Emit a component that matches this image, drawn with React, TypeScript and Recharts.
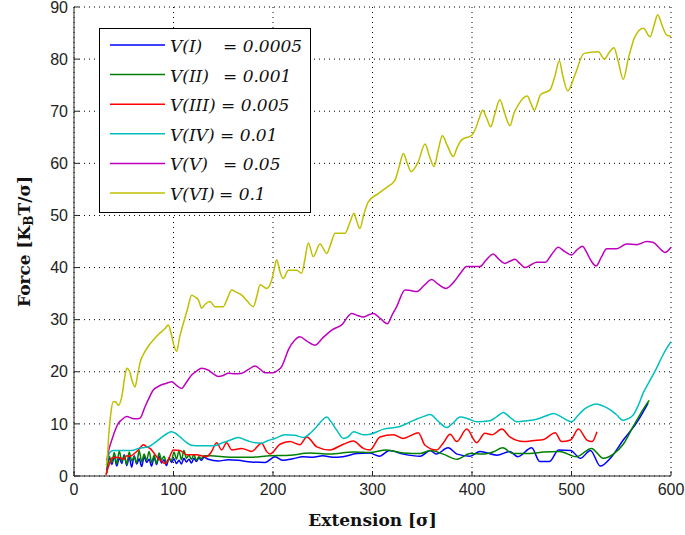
import { LineChart, Line, XAxis, YAxis, CartesianGrid, Legend, Label } from 'recharts';

type Pair = [number, number];

// pulling velocities (legend order)
const seriesNames = ['V(I)', 'V(II)', 'V(III)', 'V(IV)', 'V(V)', 'V(VI)'];
const seriesRates = ['0.0005', '0.001', '0.005', '0.01', '0.05', '0.1'];
const seriesColors = ['#0000ff', '#008000', '#ff0000', '#00bfbf', '#bf00bf', '#bfbf00'];

const xTicks = [0, 100, 200, 300, 400, 500, 600];
const yTicks = [0, 10, 20, 30, 40, 50, 60, 70, 80, 90];

// extension [sigma], force [kBT/sigma]
const v1: Pair[] = [
  [33, 1.2], [35.5, 3.4], [38, 2.2], [40.5, 3.8], [43, 1.9], [45.5, 3.5], [48, 2.4], [50.5, 4.1],
  [53, 2.0], [55.5, 3.6], [58, 1.7], [60.5, 3.9], [63, 2.3], [65.5, 3.3], [68, 1.8], [70.5, 3.7],
  [73, 2.6], [75.5, 3.2], [78, 1.9], [80.5, 3.6], [83, 2.2], [85.5, 3.8], [88, 2.5], [90.5, 3.1],
  [93, 2.0], [95.5, 3.5], [98, 2.6], [100.5, 3.3], [103, 2.4], [105.5, 3.0], [108, 2.3], [110.5, 3.4],
  [113, 2.7], [115.5, 3.2], [118, 2.5], [120.5, 3.4], [123, 2.8], [125.5, 3.5], [128, 3.0], [130.5, 3.6],
  [135, 3.2], [145, 2.9], [155, 3.1], [165, 3.0], [178, 2.7], [192, 2.6], [202, 3.7], [210, 3.0],
  [220, 3.3], [230, 3.7], [240, 3.6], [250, 3.9], [260, 3.6], [270, 3.7], [284, 4.3], [297, 4.4],
  [307, 3.8], [317, 4.9], [331, 4.2], [348, 3.8], [358, 4.9], [364, 4.2], [376, 5.4], [385, 4.2],
  [398, 3.8], [408, 4.7], [425, 4.0], [438, 4.7], [446, 3.7], [460, 5.4], [468, 2.8], [478, 2.8],
  [487, 5.0], [499, 4.9], [509, 3.4], [519, 4.9], [529, 1.9], [539, 3.4], [552, 6.9], [565, 10.1],
  [577, 14.0],
];

const v2: Pair[] = [
  [33, 0.5], [35.5, 3.8], [38, 2.6], [40.5, 4.5], [43, 2.3], [45.5, 4.8], [48, 2.8], [50.5, 3.9],
  [53, 2.2], [55.5, 4.6], [58, 2.9], [60.5, 3.7], [63, 2.5], [65.5, 4.9], [68, 2.7], [70.5, 4.2],
  [73, 3.0], [75.5, 4.7], [78, 2.6], [80.5, 4.0], [83, 2.4], [85.5, 4.4], [88, 3.1], [90.5, 3.8],
  [93, 2.5], [95.5, 3.3], [98, 3.0], [100.5, 4.6], [103, 3.2], [105.5, 4.8], [108, 3.1], [110.5, 4.9],
  [113, 3.4], [115.5, 4.0], [118, 3.2], [120.5, 4.1], [123, 3.0], [125.5, 3.7], [128, 3.3], [130.5, 3.9],
  [137, 3.9], [157, 3.6], [177, 3.6], [197, 3.9], [217, 4.0], [237, 4.4], [257, 4.2], [281, 4.6],
  [297, 4.5], [314, 5.0], [331, 4.4], [348, 4.3], [358, 4.9], [371, 4.2], [385, 3.2], [398, 4.3],
  [411, 4.2], [421, 4.6], [431, 5.4], [441, 4.3], [458, 4.3], [472, 4.6], [488, 4.7], [505, 3.7],
  [520, 5.3], [532, 3.4], [542, 4.2], [552, 6.1], [562, 9.5], [572, 12.8], [578, 14.5],
];

const v3: Pair[] = [
  [32, 0.2], [35, 2.0], [38, 3.4], [42, 3.6], [46, 3.5], [50, 3.2], [53, 3.9], [56, 3.8],
  [60, 4.2], [63, 4.7], [66, 5.3], [69.7, 6.0], [73, 5.6], [76.4, 5.3], [80, 4.5], [83, 3.7],
  [87, 3.0], [91.5, 2.4], [95, 3.2], [99.8, 5.0], [106.5, 4.9], [113, 4.1], [123, 4.1], [133, 3.7],
  [138, 4.6], [143.4, 6.4], [148.4, 5.0], [153.4, 6.4], [158.5, 5.0], [168.5, 5.3], [178.6, 4.7], [188.6, 6.3],
  [193.6, 4.7], [197, 4.2], [207, 6.1], [217, 6.6], [227, 6.0], [234, 7.5], [244, 5.6], [257, 5.0],
  [270.7, 6.1], [280.7, 6.7], [290.8, 5.3], [297.5, 5.0], [307.5, 7.5], [321, 7.9], [331, 7.2], [337.7, 7.7],
  [346, 8.3], [352.8, 5.9], [364.5, 5.0], [371, 6.3], [378, 8.0], [384.6, 6.6], [394.7, 9.0], [404.7, 6.4],
  [413, 8.2], [420, 7.9], [430, 9.0], [438, 7.5], [452, 6.6], [462, 6.8], [472, 7.0], [483.6, 8.3],
  [490, 6.6], [499, 6.9], [507, 9.0], [515.5, 6.9], [520.6, 6.6], [525.6, 8.5],
];

const v4: Pair[] = [
  [33, 2.8], [36, 4.5], [39.5, 4.9], [48, 4.9], [58, 4.9], [64.7, 5.3], [74.7, 5.6], [82, 6.5],
  [88, 7.4], [94, 8.2], [98, 8.5], [102, 8.2], [106.5, 7.5], [112, 6.6], [118, 5.9], [127, 5.8],
  [135, 5.8], [141, 5.8], [148, 6.3], [156, 6.8], [165, 7.4], [171, 7.0], [177, 6.6], [188.6, 6.3],
  [195, 6.8], [202, 7.2], [212, 7.9], [222, 7.8], [230.5, 7.4], [238, 8.3], [244, 9.5], [250, 10.8],
  [254, 11.3], [258, 10.5], [264, 8.8], [271, 7.2], [276, 7.6], [281, 8.5], [286, 8.2], [291, 7.9],
  [297.5, 8.0], [311, 9.0], [327.6, 9.5], [336, 10.2], [344, 10.9], [351, 11.4], [358, 11.8], [366, 10.5],
  [374.6, 9.3], [381, 10.2], [388, 11.3], [396, 11.0], [404.7, 10.4], [418, 10.6], [425, 11.4], [431.5, 12.2],
  [438, 11.3], [445, 10.4], [455, 10.6], [465, 10.9], [474, 11.5], [482, 12.0], [491, 11.2], [500, 10.4],
  [506, 11.5], [512, 12.7], [518, 13.4], [525, 13.8], [532, 13.4], [539, 12.7], [545, 11.8], [552, 10.7],
  [557, 11.0], [562, 11.7], [567, 13.5], [572, 15.9], [579, 18.4], [585, 20.5], [590, 22.5], [595, 24.3],
  [600, 25.8],
];

const v5: Pair[] = [
  [33, 3.0], [35, 5.0], [38, 6.9], [41, 8.6], [44.5, 10.1], [48, 10.8], [53, 11.4], [58, 11.1],
  [62, 11.0], [66.3, 11.1], [71.4, 13.3], [75, 14.8], [79.7, 16.5], [84, 17.1], [88, 17.5], [93, 17.8],
  [98.2, 18.1], [103, 17.4], [108, 16.8], [113, 18.0], [118.3, 19.4], [123, 20.1], [128.3, 20.7], [135, 20.3],
  [140, 19.6], [145, 19.1], [150, 19.3], [155, 19.7], [162, 19.6], [168.5, 19.7], [175, 20.4], [182, 21.1],
  [187, 20.5], [192, 19.8], [200, 19.8], [205, 20.3], [208.7, 21.0], [212, 22.5], [215.4, 24.2], [222, 26.1],
  [227, 26.7], [234, 25.9], [242, 25.1], [250, 26.5], [259, 28.0], [269, 29.0], [279, 31.2], [285, 30.8],
  [290.8, 30.5], [296, 30.9], [300.8, 31.2], [308, 30.2], [314.9, 29.2], [320, 31.0], [324.3, 32.5], [332.7, 35.7],
  [338, 35.6], [344.4, 35.4], [352, 36.6], [359.5, 37.7], [366, 36.8], [373.9, 36.0], [382, 37.3], [388, 38.8],
  [394.7, 40.2], [408, 40.2], [414, 41.4], [421.4, 42.6], [427, 41.6], [433, 40.8], [438, 41.2], [443.2, 41.6],
  [448, 40.8], [453.3, 40.0], [459, 40.5], [465, 41.0], [473.4, 41.0], [480, 42.5], [486.7, 43.9], [493, 43.1],
  [500, 42.4], [505, 43.3], [511, 44.1], [515, 43.0], [520, 41.2], [524.6, 40.3], [530, 42.0], [535.4, 43.6],
  [545.4, 43.6], [555.5, 44.5], [565.5, 44.4], [575.6, 45.0], [582.3, 44.8], [588, 43.8], [594, 42.9], [600, 43.9],
];

const v6: Pair[] = [
  [32, 2.0], [33, 2.5], [35, 8.0], [37, 12.0], [39.5, 14.3], [42, 14.2], [44.5, 13.6], [48, 15.2],
  [51, 19.0], [53, 20.7], [56, 20.0], [58.5, 18.2], [61.3, 17.1], [64, 19.5], [66.3, 21.7], [71.4, 23.9],
  [75, 25.0], [79.7, 26.1], [85, 27.2], [91.5, 28.3], [94.8, 29.0], [97.5, 27.5], [99.8, 25.5], [103.2, 23.9],
  [106, 26.5], [109.9, 29.3], [114, 32.0], [118.3, 34.7], [122, 34.3], [125, 33.8], [128.3, 32.2], [132, 33.0],
  [136.7, 33.5], [141.7, 32.5], [150, 32.5], [154, 34.0], [158.5, 35.7], [163, 35.3], [168.5, 34.7], [174, 33.6],
  [180.2, 32.5], [184, 34.7], [187, 36.7], [193.7, 36.0], [198.7, 37.6], [201, 39.5], [203.7, 41.5], [207, 39.2],
  [210.4, 37.9], [215.4, 39.5], [223.8, 39.5], [228.8, 38.9], [232, 41.5], [235.5, 44.7], [240.5, 42.1], [247.2, 44.5],
  [254, 42.7], [258, 44.5], [262.3, 46.6], [272.4, 46.6], [277, 48.5], [281.4, 50.4], [284, 49.0], [287.4, 47.5],
  [291, 50.0], [295.8, 52.6], [305.8, 54.2], [314.3, 55.4], [322.6, 56.8], [327, 59.5], [331, 61.9], [335, 60.0],
  [338.7, 58.4], [346, 60.3], [352.8, 63.7], [357, 61.5], [361.8, 59.4], [366, 62.5], [370.2, 65.3], [375, 63.5],
  [381.2, 61.3], [385, 63.0], [389.6, 64.5], [399.7, 65.4], [403, 66.4], [407, 68.5], [410.7, 70.2], [414.5, 68.8],
  [418.8, 67.0], [423, 69.5], [428, 72.2], [433, 69.5], [438.2, 67.2], [442, 69.5], [446.5, 71.2], [455.6, 72.9],
  [459, 71.6], [462.6, 70.2], [469, 73.2], [478.4, 74.1], [483, 76.5], [487.8, 79.7], [491, 77.0], [496.2, 73.9],
  [503.5, 77.0], [512.6, 81.1], [527, 81.4], [533, 80.0], [538, 81.3], [542.7, 82.2], [547, 79.5], [552, 76.1],
  [557, 80.0], [563.8, 84.3], [572.2, 85.9], [579, 84.3], [583, 86.5], [586.6, 88.5], [591, 86.5], [595.7, 84.6],
  [600, 84.4],
];

const curves = [v1, v2, v3, v4, v5, v6].map((rows) => rows.map(([x, y]) => ({ x, y })));

const tickFont = { fontFamily: '"Liberation Sans", Arial, sans-serif', fontSize: 16, fill: '#222' };
const titleFont = '"DejaVu Serif", serif';
const axisColor = '#222';

// x position of the "=" sign in each legend row
const eqX = [124, 124, 122, 121, 124, 120];

function LegendBox() {
  return (
    <svg width={212} height={185} style={{ display: 'block' }}>
      <rect x={0.5} y={0.5} width={211} height={184} fill="#fff" stroke="#000" strokeWidth={1} />
      {seriesNames.map((name, i) => {
        const cy = 17 + i * 29.6;
        return (
          <g key={name}>
            <line x1={11} x2={66} y1={cy} y2={cy} stroke={seriesColors[i]} strokeWidth={1.5} />
            <text x={71} y={cy + 7} fontFamily={titleFont} fontStyle="italic" fontSize={17} fill="#111">
              {name}
            </text>
            <text x={eqX[i]} y={cy + 7} fontFamily={titleFont} fontStyle="italic" fontSize={17} fill="#111">
              {`= ${seriesRates[i]}`}
            </text>
          </g>
        );
      })}
    </svg>
  );
}

function ForceLabel(props: any) {
  const vb = props.viewBox || { x: 0, y: 0, width: 0, height: 0 };
  const cx = vb.x + 24;
  const cy = vb.y + vb.height / 2;
  return (
    <text
      x={cx}
      y={cy}
      transform={`rotate(-90, ${cx}, ${cy})`}
      textAnchor="middle"
      dominantBaseline="central"
      fontFamily={titleFont}
      fontWeight="bold"
      fontSize={17}
      fill="#111"
    >
      Force [K
      <tspan fontSize={12} dy={5}>B</tspan>
      <tspan dy={-5}>T/σ]</tspan>
    </text>
  );
}

export default function App() {
  return (
    <div style={{ position: 'absolute', left: 0, top: 0 }}>
      <LineChart width={685} height={535} margin={{ top: 7, right: 14, bottom: 0, left: 0 }}>
        <CartesianGrid stroke="#000" strokeDasharray="1 4" strokeWidth={1} />
        <XAxis
          dataKey="x"
          type="number"
          domain={[0, 600]}
          ticks={xTicks}
          interval={0}
          height={59}
          allowDataOverflow
          stroke={axisColor}
          tickSize={-5}
          tickMargin={13}
          tick={tickFont}
        >
          <Label
            value="Extension [σ]"
            position="insideBottom"
            offset={9}
            style={{ fontFamily: titleFont, fontWeight: 'bold', fontSize: 17, fill: '#111' }}
          />
        </XAxis>
        <XAxis
          xAxisId="top"
          orientation="top"
          type="number"
          domain={[0, 600]}
          ticks={xTicks}
          interval={0}
          height={0}
          stroke={axisColor}
          tickSize={-5}
          tick={false}
        />
        <YAxis
          type="number"
          domain={[0, 90]}
          ticks={yTicks}
          interval={0}
          width={74}
          allowDataOverflow
          stroke={axisColor}
          tickSize={-5}
          tickMargin={11}
          tick={tickFont}
        >
          <Label content={<ForceLabel />} />
        </YAxis>
        <YAxis
          yAxisId="right"
          orientation="right"
          type="number"
          domain={[0, 90]}
          ticks={yTicks}
          interval={0}
          width={0}
          stroke={axisColor}
          tickSize={-5}
          tick={false}
        />
        <Legend
          layout="vertical"
          align="center"
          verticalAlign="middle"
          content={() => <LegendBox />}
          wrapperStyle={{ position: 'absolute', left: 99, top: 28, width: 212, height: 185 }}
        />
        {curves.map((data, i) => (
          <Line
            key={seriesNames[i]}
            data={data}
            dataKey="y"
            name={seriesNames[i]}
            type="monotone"
            stroke={seriesColors[i]}
            strokeWidth={1.5}
            dot={false}
            activeDot={false}
            isAnimationActive={false}
          />
        ))}
      </LineChart>
    </div>
  );
}
